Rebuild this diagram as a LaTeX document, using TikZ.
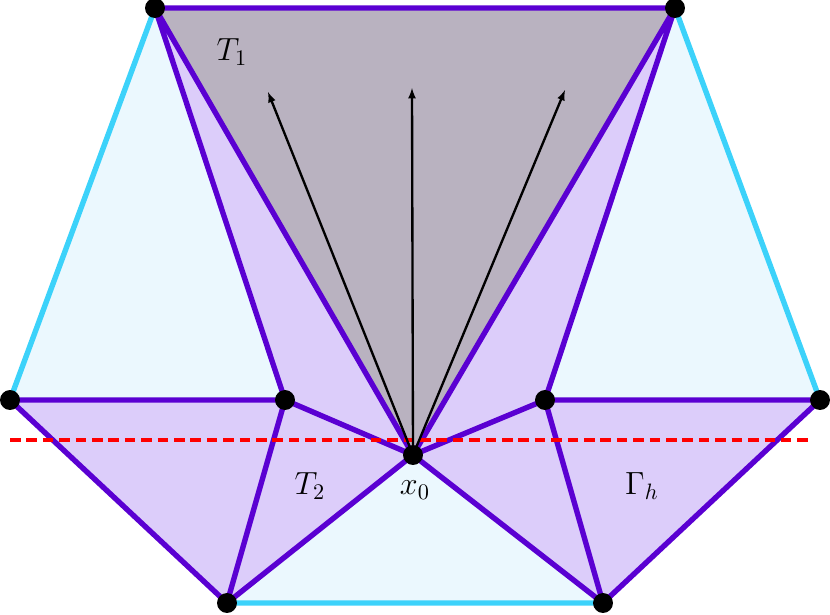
\documentclass[tikz,border=0pt]{standalone}
\begin{document}
\begin{tikzpicture}[x=0.03cm,y=-0.03cm,line join=round,
  pl/.style={draw=pline,line width=4.6pt},
  cl/.style={draw=cline,line width=4.6pt},
  dotn/.style={circle,fill=black,inner sep=0pt,minimum size=17pt},
  lab/.style={font=\Large,scale=1.9}]
\definecolor{pline}{RGB}{90,0,210}
\definecolor{cline}{RGB}{60,210,250}
\definecolor{pfill}{RGB}{220,205,250}
\definecolor{cfill}{RGB}{235,248,254}
\definecolor{gfill}{RGB}{185,178,192}
\useasboundingbox (0,0) rectangle (830,615);
\coordinate (A) at (155,8); \coordinate (B) at (675,8);
\coordinate (L) at (10,400); \coordinate (R) at (820,400);
\coordinate (P1) at (285,400); \coordinate (P2) at (545,400);
\coordinate (X) at (413,455);
\coordinate (BL) at (227,603); \coordinate (BR) at (603,603);
\fill[cfill] (A)--(L)--(P1)--cycle (B)--(R)--(P2)--cycle (BL)--(X)--(BR)--cycle;
\fill[pfill] (A)--(P1)--(X)--cycle (L)--(P1)--(BL)--cycle (P1)--(X)--(BL)--cycle
  (B)--(P2)--(X)--cycle (P2)--(X)--(BR)--cycle (P2)--(R)--(BR)--cycle;
\fill[gfill] (A)--(B)--(X)--cycle;
\draw[cl] (A)--(L) (B)--(R) (BL)--(BR);
\draw[pl] (A)--(B) (A)--(P1) (A)--(X) (B)--(P2) (B)--(X) (L)--(P1) (L)--(BL)
  (P1)--(BL) (P1)--(X) (BL)--(X) (X)--(BR) (X)--(P2) (P2)--(BR) (P2)--(R) (R)--(BR);
\draw[red,line width=3pt,dash pattern=on 9pt off 5pt] (10,440) -- (810,440);
\coordinate (E1) at (268,92); \coordinate (E2) at (412,88); \coordinate (E3) at (565,90);
\foreach \e in {E1,E2,E3} \draw[-latex,line width=2pt] (X) -- (\e);
\foreach \p in {A,B,L,R,P1,P2,X,BL,BR} \node[dotn] (n\p) at (\p) {};
\node[lab] (t1) at (232,52) {$T_1$};
\node[lab] (t2) at (310,486) {$T_2$};
\node[lab] (x0) at (415,490) {$x_0$};
\node[lab] (gh) at (642,486) {$\Gamma_h$};
\end{tikzpicture}
\end{document}
